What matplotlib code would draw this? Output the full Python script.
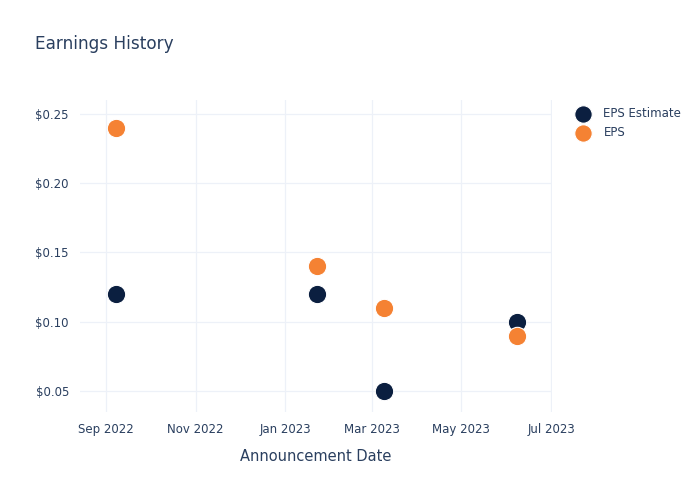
import matplotlib
matplotlib.use('Agg')
import matplotlib.pyplot as plt
import matplotlib.dates as mdates
import numpy as np
import pandas as pd

dates = pd.to_datetime(['2022-09-08', '2023-01-23', '2023-03-09', '2023-06-08'])
eps_estimate = [0.12, 0.12, 0.05, 0.10]
eps_actual = [0.24, 0.14, 0.11, 0.09]

text_color = '#2a3f5f'
grid_color = '#edf1f8'
navy = '#0b1f40'
orange = '#f58233'

plt.rcParams['font.family'] = 'DejaVu Sans'

fig = plt.figure(figsize=(7, 5), dpi=100)
ax = fig.add_axes([80 / 700, 88 / 500, 472 / 700, 312 / 500])

ax.scatter(dates, eps_estimate, s=175, color=navy, edgecolors='white', linewidths=0.8,
           zorder=3, label='EPS Estimate')
ax.scatter(dates, eps_actual, s=175, color=orange, edgecolors='white', linewidths=0.8,
           zorder=3, label='EPS')

ax.set_xlim(pd.Timestamp('2022-08-14 07:00'), pd.Timestamp('2023-07-01 16:00'))
ax.set_ylim(0.0348, 0.2601)

ax.xaxis.set_major_locator(mdates.MonthLocator(bymonth=[1, 3, 5, 7, 9, 11]))
ax.xaxis.set_major_formatter(mdates.DateFormatter('%b %Y'))
ax.set_yticks([0.05, 0.10, 0.15, 0.20, 0.25])
ax.set_yticklabels(['$0.05', '$0.10', '$0.15', '$0.20', '$0.25'])

ax.grid(True, color=grid_color, linewidth=0.9)
ax.set_axisbelow(True)
for sp in ax.spines.values():
    sp.set_visible(False)
ax.tick_params(length=0, labelsize=8.5, colors=text_color, pad=8)

ax.set_xlabel('Announcement Date', fontsize=10.5, color=text_color, labelpad=9)
fig.text(35 / 700, 1 - 44 / 500, 'Earnings History', fontsize=12.2, color=text_color,
         va='center', ha='left')

leg = fig.legend(loc='upper left', bbox_to_anchor=(571 / 700, 1 - 107 / 500), frameon=False,
                 fontsize=8.5, labelcolor=text_color, handletextpad=0.75,
                 borderaxespad=0, borderpad=0, labelspacing=0.5, markerscale=0.95)

fig.savefig('out.png', dpi=100)
